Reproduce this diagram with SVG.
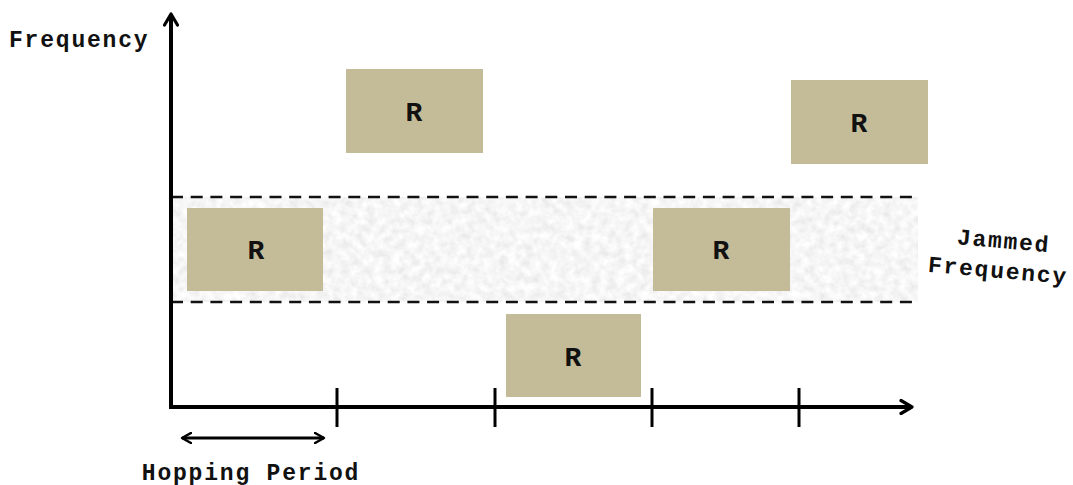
<svg xmlns="http://www.w3.org/2000/svg" width="1073" height="485" viewBox="0 0 1073 485">
  <defs>
    <style>
      .lbl { font-family: "Liberation Mono", "Courier New", monospace; font-weight: bold; fill: #111; font-size: 23px; letter-spacing: 1.8px; }
      .slot rect { fill: #c4bc98; }
      .slot text { font-family: "Liberation Mono", "Courier New", monospace; font-weight: bold; font-size: 28px; fill: #111; text-anchor: middle; }
      .axis { stroke: #000; stroke-width: 4; fill: none; }
      .tick { stroke: #000; stroke-width: 3; }
      .dash { stroke: #111; stroke-width: 2.5; stroke-dasharray: 12 7.7; fill: none; }
    </style>
    <!-- mottled grey texture for the jammed band -->
    <filter id="grain" x="0" y="0" width="100%" height="100%">
      <feTurbulence type="fractalNoise" baseFrequency="0.12" numOctaves="3" seed="7" result="n"/>
      <feColorMatrix in="n" type="matrix" values="0.3 0 0 0 0.77  0.3 0 0 0 0.77  0.3 0 0 0 0.77  0 0 0 0 1"/>
    </filter>
    <marker id="head" viewBox="0 0 12 12" refX="10" refY="6" markerWidth="12" markerHeight="12" markerUnits="userSpaceOnUse" orient="auto-start-reverse">
      <path d="M1,1 L10,6 L1,11" fill="none" stroke="#000" stroke-width="2.5" stroke-linecap="round" stroke-linejoin="round"/>
    </marker>
    <marker id="bighead" viewBox="0 0 16 16" refX="13" refY="8" markerWidth="16" markerHeight="16" markerUnits="userSpaceOnUse" orient="auto">
      <path d="M2,1.5 L13,8 L2,14.5" fill="none" stroke="#000" stroke-width="3.2" stroke-linecap="round" stroke-linejoin="round"/>
    </marker>
  </defs>

  <rect width="1073" height="485" fill="#fff"/>

  <!-- jammed band -->
  <g id="jammed-band">
    <rect x="171" y="197" width="747" height="105" fill="#efefef" filter="url(#grain)"/>
    <line class="dash" x1="171" y1="197" x2="918" y2="197"/>
    <line class="dash" x1="171" y1="302" x2="918" y2="302"/>
  </g>

  <!-- axes and ticks -->
  <g id="connectors">
    <line class="axis" x1="171" y1="408" x2="171" y2="14" marker-end="url(#bighead)"/>
    <line class="axis" x1="169" y1="407" x2="912" y2="407" marker-end="url(#bighead)"/>
    <line class="tick" x1="337" y1="388" x2="337" y2="427"/>
    <line class="tick" x1="495" y1="388" x2="495" y2="427"/>
    <line class="tick" x1="652" y1="388" x2="652" y2="427"/>
    <line class="tick" x1="799" y1="388" x2="799" y2="427"/>
    <line x1="182" y1="438" x2="324" y2="438" stroke="#000" stroke-width="3" marker-start="url(#head)" marker-end="url(#head)"/>
  </g>

  <!-- hop slots -->
  <g id="slot1" class="slot"><rect x="187" y="208" width="136" height="83"/><text x="256" y="259">R</text></g>
  <g id="slot2" class="slot"><rect x="346" y="69" width="137" height="84"/><text x="414" y="121">R</text></g>
  <g id="slot3" class="slot"><rect x="506" y="314" width="135" height="83"/><text x="573" y="366">R</text></g>
  <g id="slot4" class="slot"><rect x="653" y="208" width="137" height="83"/><text x="721" y="259">R</text></g>
  <g id="slot5" class="slot"><rect x="791" y="80" width="137" height="84"/><text x="859" y="132">R</text></g>

  <!-- labels -->
  <g id="label-frequency"><text class="lbl" x="9" y="47">Frequency</text></g>
  <g id="label-jammed" transform="rotate(5 1000 260)">
    <text class="lbl" x="1002" y="248" text-anchor="middle">Jammed</text>
    <text class="lbl" x="999" y="278" text-anchor="middle">Frequency</text>
  </g>
  <g id="label-period"><text class="lbl" x="251" y="480" text-anchor="middle">Hopping Period</text></g>
</svg>
